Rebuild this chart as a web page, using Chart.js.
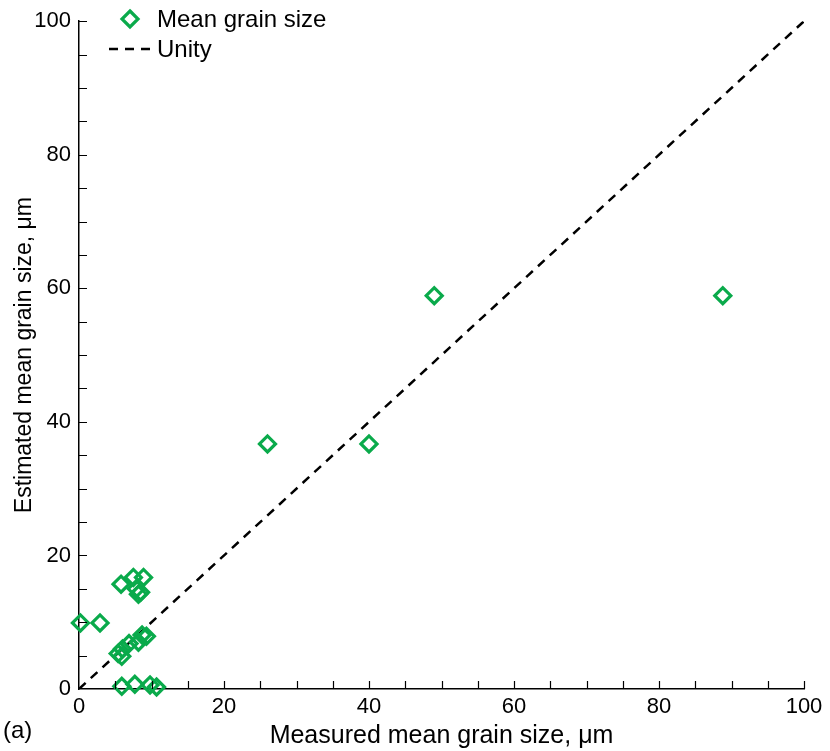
<!DOCTYPE html>
<html>
<head>
<meta charset="utf-8">
<style>
  html, body { margin: 0; padding: 0; background: #fff; }
  #wrap { width: 830px; height: 751px; }
</style>
<script src="https://cdn.jsdelivr.net/npm/chart.js@4"></script>
</head>
<body>
<div id="wrap"><canvas id="grainChart" width="830" height="751"></canvas></div>
<script>
// measured vs estimated mean grain size (um)
const measured = [88.8, 49.0, 26.0, 40.0, 0.2, 2.9,
  5.8, 7.5, 8.9, 7.9, 8.5, 8.2,
  5.4, 6.0, 6.9, 8.2, 8.7, 9.3, 5.9,
  5.9, 7.7, 9.8, 10.7];
const estimated = [58.9, 58.9, 36.7, 36.7, 9.9, 9.9,
  15.7, 16.7, 16.7, 15.0, 14.5, 14.2,
  5.3, 6.0, 6.8, 7.0, 8.1, 7.9, 4.9,
  0.4, 0.7, 0.6, 0.3];
const unityX = [0, 100];
const unityY = [0, 100];
const axisTicks = [0, 20, 40, 60, 80, 100];

const green = '#0aaa4b';
const fontFam = '"Liberation Sans", Arial, sans-serif';

let points = measured.map((m, i) => ({x: m, y: estimated[i]}));
let unity = unityX.map((u, i) => ({x: u, y: unityY[i]}));

// inward tick marks every 5 units, drawn off the scales
const innerTicks = {
  id: 'innerTicks',
  afterDraw(chart) {
    const c = chart.ctx, xs = chart.scales.x, ys = chart.scales.y;
    const len = 8;
    c.save();
    c.strokeStyle = '#000';
    c.lineWidth = 1.2;
    c.beginPath();
    for (let v = 5; v <= 100; v += 5) {
      let px = Math.round(xs.getPixelForValue(v)) + 0.5;
      c.moveTo(px, ys.bottom);
      c.lineTo(px, ys.bottom - len);
      let py = Math.round(ys.getPixelForValue(v)) + 0.5;
      c.moveTo(xs.left, py);
      c.lineTo(xs.left + len, py);
    }
    c.stroke();
    c.restore();
  }
};

// legend in upper left + panel letter
const extras = {
  id: 'extras',
  afterDraw(chart) {
    const c = chart.ctx;
    const ds = chart.data.datasets;
    c.save();
    c.font = '24px ' + fontFam;
    c.fillStyle = '#000';
    c.textBaseline = 'middle';

    // diamond marker
    let mx = 130, my = 19, r = 8;
    c.strokeStyle = ds[0].borderColor;
    c.lineWidth = 3.2;
    c.beginPath();
    c.moveTo(mx, my - r); c.lineTo(mx + r, my); c.lineTo(mx, my + r); c.lineTo(mx - r, my);
    c.closePath();
    c.stroke();
    c.fillText(ds[0].label, 157, 20);

    // dashed line
    c.strokeStyle = '#000';
    c.lineWidth = 2.5;
    c.setLineDash([9, 7]);
    c.beginPath();
    c.moveTo(109, 49); c.lineTo(157, 49);
    c.stroke();
    c.setLineDash([]);
    c.fillText(ds[1].label, 157, 50);

    c.font = '24px ' + fontFam;
    c.fillText('(a)', 3, 731);
    c.restore();
  }
};

let ctx = document.getElementById('grainChart').getContext('2d');
let myChart = new Chart(ctx, {
  type: 'scatter',
  data: {
    datasets: [{
      label: 'Mean grain size',
      data: points,
      pointStyle: 'rectRot',
      pointRadius: 8,
      pointBorderWidth: 3.2,
      borderColor: green,
      backgroundColor: 'rgba(0,0,0,0)',
      showLine: false,
      clip: false,
      order: 1
    }, {
      label: 'Unity',
      data: unity,
      showLine: true,
      borderColor: '#000',
      borderWidth: 2.5,
      borderDash: [9, 7],
      pointRadius: 0,
      fill: false,
      order: 2
    }]
  },
  options: {
    responsive: false,
    animation: false,
    layout: { padding: { top: 20, right: 26, left: 0, bottom: 0 } },
    plugins: { legend: { display: false }, tooltip: { enabled: false } },
    scales: {
      x: {
        type: 'linear', min: 0, max: 100,
        afterFit: (s) => { s.height = 62; },
        afterBuildTicks: (s) => { s.ticks = axisTicks.map(v => ({value: v})); },
        grid: { display: false, drawTicks: false },
        border: { display: true, color: '#000', width: 1.5 },
        ticks: { color: '#000', padding: 5, font: { family: fontFam, size: 22 } },
        title: { display: true, text: 'Measured mean grain size, μm', color: '#000',
                 padding: { top: 0, bottom: 0 }, font: { family: fontFam, size: 25 } }
      },
      y: {
        type: 'linear', min: 0, max: 100,
        afterFit: (s) => { s.width = 79; },
        afterBuildTicks: (s) => { s.ticks = axisTicks.map(v => ({value: v})); },
        grid: { display: false, drawTicks: false },
        border: { display: true, color: '#000', width: 1.5 },
        ticks: { color: '#000', padding: 8, font: { family: fontFam, size: 22 } },
        title: { display: true, text: 'Estimated mean grain size, μm', color: '#000',
                 padding: { top: 11, bottom: 0 }, font: { family: fontFam, size: 23 } }
      }
    }
  },
  plugins: [innerTicks, extras]
});
</script>
</body>
</html>
